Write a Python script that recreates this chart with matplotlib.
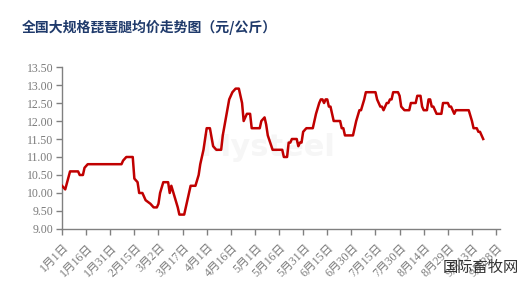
import pandas as pd
import matplotlib
matplotlib.use("Agg")
import matplotlib.pyplot as plt
import matplotlib.transforms as mtransforms

# days counted from 1 Jan (2023) and average price, yuan/kg
days = [0, 2, 5, 10, 11, 13, 14, 16, 37, 38, 40, 44, 45, 47, 48, 50, 52, 55, 57, 59,
        60, 61, 63, 66, 67, 68, 70, 72, 73, 76, 78, 80, 83, 85, 86, 88, 90, 92, 94, 96,
        99, 100, 102, 104, 106, 108, 110, 112, 113, 115, 117, 118, 123, 124, 126, 127, 128, 131, 137, 138,
        140, 141, 142, 143, 146, 147, 148, 149, 150, 152, 156, 158, 160, 161, 162, 163, 164, 165, 166, 167,
        168, 169, 173, 174, 175, 176, 181, 183, 185, 186, 188, 189, 195, 196, 198, 199, 200, 202, 203, 204,
        205, 206, 209, 210, 211, 213, 216, 217, 220, 221, 223, 224, 225, 227, 228, 229, 230, 231, 233, 236,
        237, 240, 241, 242, 244, 245, 253, 255, 256, 258, 259, 260, 261, 262]
prices = [10.2, 10.1, 10.6, 10.6, 10.5, 10.5, 10.7, 10.8, 10.8, 10.9, 11.0, 11.0, 10.4, 10.3, 10.0, 10.0, 9.8, 9.7, 9.6, 9.6,
          9.7, 10.0, 10.3, 10.3, 10.0, 10.2, 9.9, 9.6, 9.4, 9.4, 9.8, 10.2, 10.2, 10.5, 10.8, 11.2, 11.8, 11.8, 11.3, 11.2,
          11.2, 11.6, 12.1, 12.6, 12.8, 12.9, 12.9, 12.5, 12.0, 12.2, 12.2, 11.8, 11.8, 12.0, 12.1, 11.9, 11.6, 11.2, 11.2, 11.0,
          11.0, 11.4, 11.4, 11.5, 11.5, 11.3, 11.4, 11.4, 11.7, 11.8, 11.8, 12.2, 12.5, 12.6, 12.6, 12.5, 12.6, 12.6, 12.4, 12.4,
          12.2, 12.0, 12.0, 11.8, 11.8, 11.6, 11.6, 12.0, 12.3, 12.3, 12.6, 12.8, 12.8, 12.6, 12.4, 12.4, 12.3, 12.5, 12.5, 12.6,
          12.6, 12.8, 12.8, 12.7, 12.4, 12.3, 12.3, 12.5, 12.5, 12.7, 12.7, 12.4, 12.3, 12.3, 12.6, 12.6, 12.4, 12.4, 12.2, 12.2,
          12.5, 12.5, 12.4, 12.4, 12.2, 12.3, 12.3, 12.0, 11.8, 11.8, 11.7, 11.7, 11.6, 11.5]

start = pd.Timestamp("2023-01-01")
tick_dates = pd.date_range("2023-01-01", "2023-09-28", freq="15D")
tick_labels = [f"{d.month}月{d.day}日" for d in tick_dates]
y_ticks = [9.0, 9.5, 10.0, 10.5, 11.0, 11.5, 12.0, 12.5, 13.0, 13.5]

title = "全国大规格琵琶腿均价走势图（元/公斤）"

serif = ["Liberation Serif", "Noto Sans CJK SC"]
gray = "#808080"
label_gray = "#7a7a7a"

dates = start + pd.to_timedelta(days, unit="D")

fig = plt.figure(figsize=(5.22, 2.96), dpi=100)
ax = fig.add_axes([0.1188, 0.2264, 0.8392, 0.5472])

ax.text(0.47, 0.5, "Mysteel", transform=ax.transAxes, fontsize=22, fontweight="bold",
        color="#f6f6f6", ha="center", va="center", zorder=0)

ax.plot(dates, prices, color="#c00000", linewidth=1.8, zorder=3)

ax.set_xlim(start, start + pd.Timedelta(days=272.5))
ax.set_ylim(9.0, 13.5)
ax.set_yticks(y_ticks)
ax.set_yticklabels([f"{v:.2f}" for v in y_ticks], family=serif, fontsize=8.5, color=label_gray)
ax.set_xticks(tick_dates)
ax.set_xticklabels(tick_labels, family=serif, fontsize=8.5, color=label_gray,
                   rotation=45, ha="right", va="center", rotation_mode="anchor")

for s in ["top", "right"]:
    ax.spines[s].set_visible(False)
for s in ["left", "bottom"]:
    ax.spines[s].set_color(gray)
    ax.spines[s].set_linewidth(1)
ax.tick_params(axis="both", colors=gray, length=4, width=1)
ax.tick_params(axis="x", pad=8)
ax.tick_params(axis="y", pad=2)

# shift the slanted date labels a little to the right, as in the original
shift = mtransforms.ScaledTranslation(5 / 100, 0, fig.dpi_scale_trans)
for lab in ax.get_xticklabels():
    lab.set_transform(lab.get_transform() + shift)
    lab.set_color(label_gray)
for lab in ax.get_yticklabels():
    lab.set_color(label_gray)

fig.text(22 / 522, 1 - 27 / 296, title, fontsize=10, fontweight="bold", color="#1f3a6b",
         family=["Noto Sans CJK SC", "DejaVu Sans"], ha="left", va="center")

fig.text(443 / 522, 1 - 267 / 296, "国际畜牧网", fontsize=11, color="#333333",
         family=["Noto Sans CJK SC", "DejaVu Sans"], ha="left", va="center")

fig.savefig("out.png", dpi=100)
